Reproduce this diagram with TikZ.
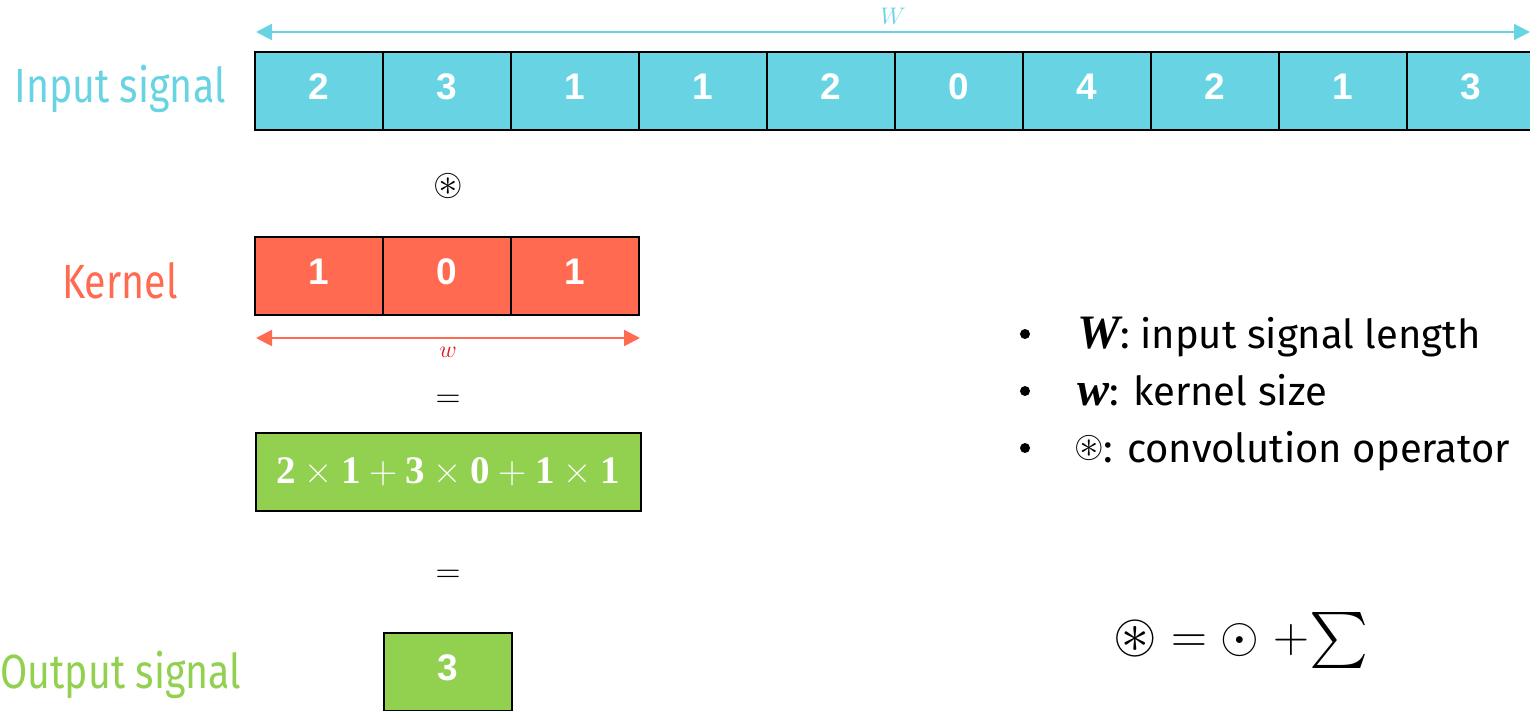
\documentclass[tikz,border=0pt]{standalone}
\usepackage{amssymb}
\usepackage{fontspec}
\setmainfont{Fira Sans}
\newfontfamily\condfont{Fira Sans}[FakeStretch=0.82]
\newfontfamily\digitfont{Liberation Sans}
\newfontfamily\cambfont{Liberation Serif}
\newfontfamily\lmfontreg{Latin Modern Roman}
\newcommand{\bop}[1]{\hspace{0.22em}{\normalfont\lmfontreg #1}\hspace{0.22em}}
\usetikzlibrary{arrows.meta}
\definecolor{cyanc}{RGB}{104,211,227}
\definecolor{redc}{RGB}{255,106,80}
\definecolor{greenc}{RGB}{146,208,80}
\definecolor{wred}{RGB}{230,20,20}
\tikzset{
  cellbox/.style={draw=black, line width=1pt, minimum width=64pt, minimum height=39pt, inner sep=0pt,
    text height=13.3pt, text depth=5pt,
    font=\digitfont\bfseries\fontsize{18.5}{20}\selectfont, text=white},
  incell/.style={cellbox, fill=cyanc},
  kcell/.style={cellbox, fill=redc},
  ocell/.style={cellbox, fill=greenc},
  widebox/.style={draw=black, line width=1pt, fill=greenc, minimum width=192.5pt, minimum height=39pt, inner sep=0pt},
  sumtext/.style={text=white, inner sep=0pt, font=\cambfont\bfseries\fontsize{19.5}{22}\selectfont},
  rowlabel/.style={font=\condfont\fontsize{24}{28}\selectfont, inner sep=0pt},
  opsym/.style={font=\fontsize{19}{22}\selectfont, inner sep=0pt},
  dimarrow/.style={line width=1pt, {Triangle[length=8pt,width=8pt]}-{Triangle[length=8pt,width=8pt]}},
  bullettext/.style={font=\fontsize{20}{24}\selectfont, inner sep=0pt, anchor=base west},
  bulletdot/.style={circle, fill=black, inner sep=0pt, minimum size=5pt}
}
\begin{document}
\begin{tikzpicture}[x=0.5pt,y=-0.5pt]
\useasboundingbox (0,0) rectangle (1530,711);
% input row
\foreach \v [count=\i from 0] in {2,3,1,1,2,0,4,2,1,3}
  \node[incell] (in\i) at ({255+128*\i+64},91) {\v};
\coordinate (Wl) at (256,32);
\coordinate (Wr) at (1530,32);
\draw[dimarrow, cyanc] (Wl) -- (Wr);
\node[text=cyanc, font=\fontsize{13}{15}\selectfont, inner sep=0pt] (Wlab) at (893,16) {$W$};
\node[rowlabel, text=cyanc, anchor=base east] (inlab) at (226,103) {Input signal};
% convolution symbol
\node[opsym] (conv) at (448,186) {$\circledast$};
% kernel row
\foreach \v [count=\i from 0] in {1,0,1}
  \node[kcell] (k\i) at ({255+128*\i+64},276) {\v};
\node[rowlabel, text=redc, anchor=base] (klab) at (120,298) {Kernel};
\coordinate (wl) at (256,338);
\coordinate (wr) at (640,338);
\draw[dimarrow, redc] (wl) -- (wr);
\node[text=wred, font=\fontsize{13}{15}\selectfont, inner sep=0pt] (wlab) at (448,352) {$w$};
% equals
\node[opsym] (eq1) at (448,401) {$=$};
\node[widebox] (sumbox) at (448,472) {};
\node[sumtext] (sumtxt) at (sumbox.center) {2\bop{×}1\bop{+}3\bop{×}0\bop{+}1\bop{×}1};
\node[opsym] (eq2) at (448,576) {$=$};
% output
\node[ocell] (out) at (448,672) {3};
\node[rowlabel, text=greenc, anchor=base west] (outlab) at (0,688) {Output signal};
% bullets
\node[bulletdot] (b1) at (1025,334) {};
\node[bullettext] (t1) at (1077,348) {{\cambfont\bfseries\itshape\fontsize{24}{26}\selectfont W}: input signal length};
\node[bulletdot] (b2) at (1025,391) {};
\node[bullettext] (t2) at (1077,405) {{\cambfont\bfseries\itshape\fontsize{24}{26}\selectfont w}: kernel size};
\node[bulletdot] (b3) at (1025,448) {};
\node[opsym] (c3) at (1089,448) {$\circledast$};
\node[bullettext] (t3) at (1103,462) {: convolution operator};
% formula
\node[font=\fontsize{28}{32}\selectfont, inner sep=0pt] (formula) at (1241,640) {$\circledast = \odot\;{+}{\textstyle\sum}$};
\end{tikzpicture}
\end{document}
